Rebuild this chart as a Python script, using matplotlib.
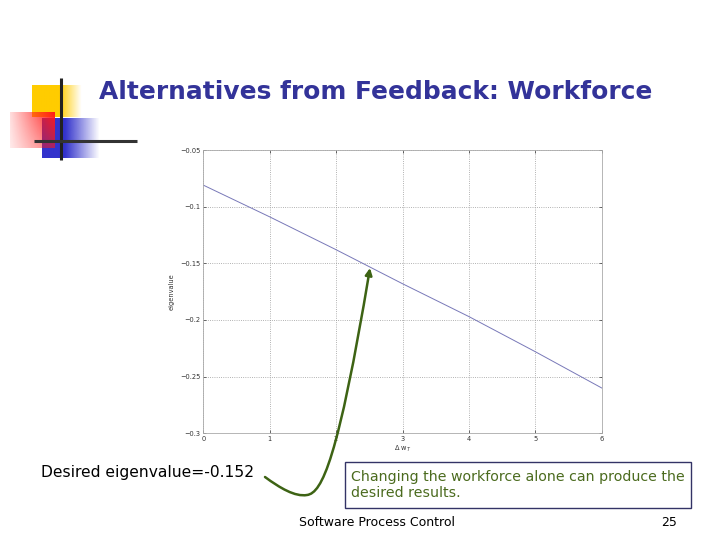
import numpy as np
import matplotlib.pyplot as plt
from matplotlib.path import Path
from matplotlib.patches import FancyArrowPatch, Rectangle

# data
dw = [0, 1, 2, 3, 4, 5, 6]
eig = [-0.081, -0.109, -0.138, -0.168, -0.197, -0.228, -0.260]
xticks = [0, 1, 2, 3, 4, 5, 6]
yticks = [-0.3, -0.25, -0.2, -0.15, -0.1, -0.05]
ytick_labels = ["\u22120.3", "\u22120.25", "\u22120.2", "\u22120.15", "\u22120.1", "\u22120.05"]

title = "Alternatives from Feedback: Workforce"
left_note = "Desired eigenvalue=-0.152"
box_note = "Changing the workforce alone can produce the\ndesired results."
footer = "Software Process Control"
page = "25"

fig = plt.figure(figsize=(7.2, 5.4), dpi=100)

# --- the matlab style chart ---
ax = fig.add_axes([0.2824, 0.1976, 0.5533, 0.5246])
ax.plot(dw, eig, color="#7878b8", lw=0.7)
ax.set_xlim(0, 6)
ax.set_ylim(-0.3, -0.05)
ax.set_xticks(xticks)
ax.set_yticks(yticks)
ax.set_yticklabels(ytick_labels)
ax.tick_params(direction="in", top=True, right=True, labelsize=4.8, length=2,
               width=0.5, colors="#333333", pad=2)
ax.grid(True, ls=":", color="#999999", lw=0.6)
for s in ax.spines.values():
    s.set_color("#aaaaaa")
    s.set_linewidth(0.6)
ax.set_xlabel("\u0394 w$_T$", fontsize=4.8, labelpad=1, color="#333333")
ax.set_ylabel("eigenvalue", fontsize=4.8, labelpad=4, color="#333333")

# --- slide overlay in pixel coords ---
ov = fig.add_axes([0, 0, 1, 1], facecolor="none")
ov.set_xlim(0, 720)
ov.set_ylim(540, 0)
ov.axis("off")

def grad(rgb, alphas_x, alphas_y=None):
    a = np.array(alphas_x)[None, :]
    if alphas_y is not None:
        a = a * np.array(alphas_y)[:, None]
    else:
        a = np.repeat(a, 2, axis=0)
    img = np.zeros(a.shape + (4,))
    img[..., :3] = rgb
    img[..., 3] = a
    return img

n = 60
xs = np.linspace(0, 1, n)
# yellow square
ya = np.clip((1 - xs) / 0.45, 0, 1)
ov.imshow(grad((1.0, 0.8, 0.0), ya), extent=(32, 82, 117, 85), aspect="auto", zorder=1)
# blue square
ba = np.clip((1 - xs) / 0.6, 0, 1)
ov.imshow(grad((0.2, 0.2, 0.8), ba), extent=(42, 100, 158, 118), aspect="auto", zorder=2)
# red square
ra = np.clip(0.15 + 0.85 * xs, 0, 1)
rya = np.linspace(1, 0.6, n)
ov.imshow(grad((1.0, 0.1, 0.1), ra, rya), extent=(10, 55, 148, 112), aspect="auto", zorder=3)
# black lines
ov.plot([61, 61], [78, 160], color="#222222", lw=2.2, zorder=4, solid_capstyle="butt")
ov.plot([34, 137], [141, 141], color="#333333", lw=2.2, zorder=4, solid_capstyle="butt")

ov.text(376, 92, title, ha="center", va="center", fontsize=17.9, fontweight="bold",
        color="#333399")

ov.text(41, 473, left_note, ha="left", va="center", fontsize=11.2, color="black")

ov.add_patch(Rectangle((345, 462), 346, 46, fill=False, edgecolor="#333366", lw=1))
ov.text(351, 485, box_note, ha="left", va="center", fontsize=10.2, color="#4b6b1e",
        linespacing=1.15)

ov.text(377, 523, footer, ha="center", va="center", fontsize=9, color="black")
ov.text(669, 523, page, ha="center", va="center", fontsize=9, color="black")

# green curved arrow
verts = [(265, 477), (280, 488), (295, 497), (307, 495),
         (322, 493), (338, 460), (370, 268)]
codes = [Path.MOVETO, Path.CURVE4, Path.CURVE4, Path.CURVE4,
         Path.CURVE4, Path.CURVE4, Path.CURVE4]
arr = FancyArrowPatch(path=Path(verts, codes), arrowstyle="-|>", mutation_scale=10,
                      color="#3d6314", lw=1.8, zorder=6)
ov.add_patch(arr)

fig.savefig("out.png", dpi=100)
